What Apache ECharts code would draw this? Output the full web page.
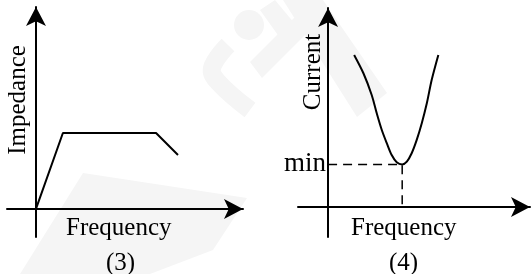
<!DOCTYPE html>
<html>
<head>
<meta charset="utf-8">
<script src="https://cdn.jsdelivr.net/npm/echarts@6/dist/echarts.min.js"></script>
<style>
html,body{margin:0;padding:0;background:#fff;}
#chart{width:531px;height:274px;}
</style>
</head>
<body>
<div id="chart"></div>
<script>
// (3) impedance vs frequency
var impFreq=[0,1.3,5.8,6.86];
var impVal=[0,3.76,3.76,2.67];
// (4) current vs frequency
var curFreq=[1.29,1.75,2.16,2.41,2.66,2.91,3.15,3.40,3.67,3.90,4.14,4.39,4.64,4.89,5.13,5.46];
var curVal=[7.64,6.72,5.63,4.71,3.87,3.20,2.61,2.25,2.14,2.28,2.70,3.37,4.21,5.21,6.38,7.64];
var minFreq=3.67;
var minVal=2.14;

function pairs(xs,ys){
	var out=[];
	for(var i=0;i<xs.length;i++){
		out.push([xs[i],ys[i]]);
	}
	return out;
}

var serif='"Liberation Serif","DejaVu Serif",serif';
var axisStyle={
	show:true,
	onZero:true,
	symbol:['none','arrow'],
	symbolSize:[15,19],
	lineStyle:{color:'#000',width:2}
};

function makeAxis(idx,min){
	return {
		type:'value',gridIndex:idx,min:min,max:10,
		axisLine:axisStyle,axisTick:{show:false},axisLabel:{show:false},splitLine:{show:false}
	};
}

//背景水印
var wm='#f5f5f5';
var watermark=[
	{type:'circle',shape:{cx:249,cy:25,r:15},style:{fill:wm},z:-10},
	{type:'polygon',shape:{points:[[83,173],[247,198],[213,250],[150,274],[20,274]]},style:{fill:wm},z:-10},
	{type:'polygon',shape:{points:[[283,0],[323,0],[387,93],[357,117]]},style:{fill:wm},z:-10},
	{type:'polygon',shape:{points:[[260,10],[275,0],[300,30],[285,45]]},style:{fill:wm},z:-10},
	{type:'polyline',shape:{points:[[228,45],[212,68],[218,82],[250,110]],smooth:0.4},style:{stroke:wm,lineWidth:18,fill:null},z:-10},
	{type:'polygon',shape:{points:[[300,12],[310,30],[262,78],[250,62]]},style:{fill:wm},z:-10}
];

var option={
	animation:false,
	grid:[
		{left:7,top:7,width:236,height:230},
		{left:298,top:8,width:232,height:229}
	],
	xAxis:[makeAxis(0,-1.4),makeAxis(1,-1.49)],
	yAxis:[makeAxis(0,-1.39),makeAxis(1,-1.51)],
	series:[
		{
			type:'line',xAxisIndex:0,yAxisIndex:0,
			data:pairs(impFreq,impVal),
			symbol:'none',
			lineStyle:{color:'#000',width:2}
		},
		{
			type:'line',xAxisIndex:1,yAxisIndex:1,
			data:pairs(curFreq,curVal),
			smooth:0.3,
			symbol:'none',
			lineStyle:{color:'#000',width:2}
		},
		{
			type:'line',xAxisIndex:1,yAxisIndex:1,
			data:[
				{value:[0,minVal],label:{show:true,position:'left',formatter:'min',distance:2,color:'#000',fontFamily:serif,fontSize:27}},
				[minFreq,minVal],
				[minFreq,0]
			],
			symbol:'circle',
			symbolSize:0,
			showSymbol:true,
			itemStyle:{color:'#000'},
			lineStyle:{color:'#000',width:1.5,type:[9,6]}
		}
	],
	graphic:watermark.concat([
		{type:'text',left:66,top:216,style:{text:'Frequency',font:'25px '+serif,fill:'#000'}},
		{type:'text',left:106,top:251,style:{text:'(3)',font:'25px '+serif,fill:'#000'}},
		{type:'text',x:18,y:100,rotation:Math.PI/2,style:{text:'Impedance',font:'25px '+serif,fill:'#000',align:'center',verticalAlign:'middle'}},
		{type:'text',left:351,top:216,style:{text:'Frequency',font:'25px '+serif,fill:'#000'}},
		{type:'text',left:389,top:251,style:{text:'(4)',font:'25px '+serif,fill:'#000'}},
		{type:'text',x:313,y:72,rotation:Math.PI/2,style:{text:'Current',font:'25px '+serif,fill:'#000',align:'center',verticalAlign:'middle'}}
	])
};

var myChart=echarts.init(document.getElementById('chart'));
myChart.setOption(option);
</script>
</body>
</html>
